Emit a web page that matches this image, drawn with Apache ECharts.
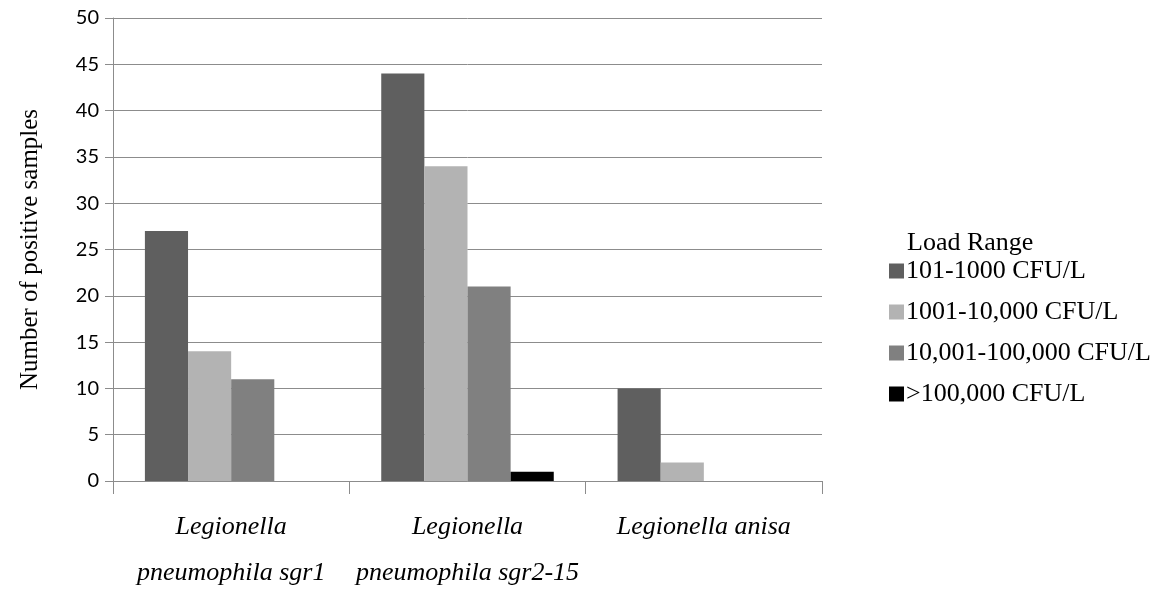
<!DOCTYPE html>
<html><head><meta charset="utf-8">
<script src="https://cdn.jsdelivr.net/npm/echarts@6/dist/echarts.min.js"></script>
<style>html,body{margin:0;padding:0;background:#fff}#c{width:1169px;height:611px}</style>
</head><body><div id="c"></div>
<script>
const categories = ['Legionella\npneumophila sgr1', 'Legionella\npneumophila sgr2-15', 'Legionella anisa'];
const seriesNames = ['101-1000 CFU/L', '1001-10,000 CFU/L', '10,001-100,000 CFU/L', '>100,000 CFU/L'];
const s1 = [27, 44, 10];
const s2 = [14, 34, 2];
const s3 = [11, 21, 0];
const s4 = [0, 1, 0];
const colors = ['#5f5f5f', '#b3b3b3', '#808080', '#000000'];
const yTicks = [0, 5, 10, 15, 20, 25, 30, 35, 40, 45, 50];

const chart = echarts.init(document.getElementById('c'), null, {renderer: 'canvas'});
const serif = '"Liberation Serif", "DejaVu Serif", serif';
const sans = 'Lato, "Open Sans", sans-serif';
const data = [s1, s2, s3, s4];
chart.setOption({
  animation: false,
  color: colors,
  title: {
    text: 'Load Range', left: 902, top: 225,
    textStyle: {fontFamily: serif, fontSize: 26, fontWeight: 'normal', color: '#000'}
  },
  legend: {
    orient: 'vertical', left: 884, top: 253,
    itemWidth: 15, itemHeight: 15, itemGap: 15,
    icon: 'rect',
    textStyle: {fontFamily: serif, fontSize: 26, lineHeight: 26, color: '#000', padding: [0,0,0,-3]},
    data: seriesNames
  },
  grid: {left: 113, right: 347, top: 18, bottom: 130, containLabel: false},
  xAxis: {
    type: 'category', data: categories,
    axisLine: {lineStyle: {color: '#8c8c8c', width: 1}},
    axisTick: {show: true, length: 13, lineStyle: {color: '#8c8c8c'}},
    axisLabel: {fontFamily: serif, fontStyle: 'italic', fontSize: 26, color: '#000', margin: 23, lineHeight: 46, interval: 0}
  },
  yAxis: {
    type: 'value', min: 0, max: 50, interval: 5,
    name: 'Number of positive samples', nameLocation: 'middle', nameGap: 70,
    nameTextStyle: {fontFamily: serif, fontSize: 25, color: '#000'},
    axisLine: {show: true, lineStyle: {color: '#8c8c8c'}},
    axisTick: {show: true, inside: false, length: 8, lineStyle: {color: '#8c8c8c'}},
    axisLabel: {fontFamily: sans, fontSize: 20, color: '#000', margin: 14,
      formatter: v => yTicks.includes(v) ? String(v) : ''},
    splitLine: {lineStyle: {color: '#8c8c8c', width: 1}}
  },
  series: seriesNames.map((n, i) => ({
    name: n, type: 'bar', data: data[i], barGap: '0%', barCategoryGap: '27%'
  }))
});
</script></body></html>
